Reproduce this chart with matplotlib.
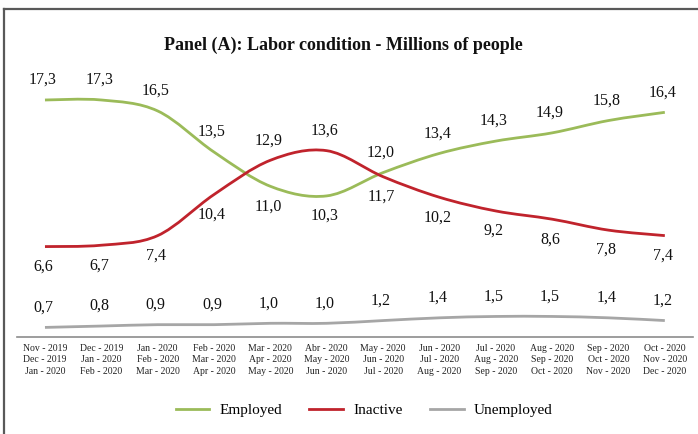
import matplotlib
matplotlib.use("Agg")
import matplotlib.pyplot as plt
from matplotlib.path import Path
from matplotlib.patches import PathPatch
from matplotlib.lines import Line2D
import numpy as np

plt.rcParams['font.family'] = ['Liberation Serif', 'DejaVu Serif']

tick_labels = [
    "Nov - 2019\nDec - 2019\nJan - 2020",
    "Dec - 2019\nJan - 2020\nFeb - 2020",
    "Jan - 2020\nFeb - 2020\nMar - 2020",
    "Feb - 2020\nMar - 2020\nApr - 2020",
    "Mar - 2020\nApr - 2020\nMay - 2020",
    "Abr - 2020\nMay - 2020\nJun - 2020",
    "May - 2020\nJun - 2020\nJul - 2020",
    "Jun - 2020\nJul - 2020\nAug - 2020",
    "Jul - 2020\nAug - 2020\nSep - 2020",
    "Aug - 2020\nSep - 2020\nOct - 2020",
    "Sep - 2020\nOct - 2020\nNov - 2020",
    "Oct - 2020\nNov - 2020\nDec - 2020",
]
employed = [17.3, 17.3, 16.5, 13.5, 11.0, 10.3, 12.0, 13.4, 14.3, 14.9, 15.8, 16.4]
inactive = [6.6, 6.7, 7.4, 10.4, 12.9, 13.6, 11.7, 10.2, 9.2, 8.6, 7.8, 7.4]
unemployed = [0.7, 0.8, 0.9, 0.9, 1.0, 1.0, 1.2, 1.4, 1.5, 1.5, 1.4, 1.2]

# label sides: above if the series is the higher of employed/inactive
emp_side = [1 if e >= i else -1 for e, i in zip(employed, inactive)]
ina_side = [1 if i > e else -1 for e, i in zip(employed, inactive)]
une_side = [1] * len(unemployed)

series = [
    ("Employed", employed, "#9BBB59", emp_side),
    ("Inactive", inactive, "#C0232C", ina_side),
    ("Unemployed", unemployed, "#A6A6A6", une_side),
]

fig = plt.figure(figsize=(6.98, 4.34), dpi=100)
ax = fig.add_axes([16.8 / 698, 97 / 434, 676.2 / 698, 274 / 434])
ax.set_xlim(-0.5, 11.5)
ax.set_ylim(0, 20)


def smooth_path(xs, ys):
    pts = np.column_stack([xs, ys]).astype(float)
    n = len(pts)
    verts = [pts[0]]
    codes = [Path.MOVETO]
    for i in range(n - 1):
        p0 = pts[i - 1] if i > 0 else pts[i]
        p1 = pts[i]
        p2 = pts[i + 1]
        p3 = pts[i + 2] if i + 2 < n else pts[i + 1]
        c1 = p1 + (p2 - p0) / 6.0
        c2 = p2 - (p3 - p1) / 6.0
        verts += [c1, c2, p2]
        codes += [Path.CURVE4] * 3
    return Path(verts, codes)


x = np.arange(len(tick_labels))
handles = []
for name, vals, color, sides in series:
    patch = PathPatch(smooth_path(x, vals), facecolor='none', edgecolor=color,
                      lw=2.0, capstyle='butt')
    ax.add_patch(patch)
    for xi, v, sd in zip(x, vals, sides):
        ax.annotate(f"{v:.1f}".replace('.', ','), (xi, v),
                    xytext=(-1.5, 14.4 * sd), textcoords='offset points',
                    ha='center', va='center', fontsize=11.5, color='#111111')
    handles.append(Line2D([], [], color=color, lw=2.0, label=name))

for s in ['top', 'right', 'left']:
    ax.spines[s].set_visible(False)
ax.spines['bottom'].set_color('#8C8C8C')
ax.spines['bottom'].set_linewidth(1.2)
ax.set_yticks([])
ax.set_xticks(x)
ax.set_xticklabels(tick_labels, fontsize=7, linespacing=1.35, color='#222222')
ax.tick_params(axis='x', length=0, pad=5)

fig.text(343 / 698, 1 - 45 / 434, "Panel (A): Labor condition - Millions of people",
         ha='center', va='center', fontsize=13, fontweight='bold', color='#111111')

fig.legend(handles=handles, loc='center', bbox_to_anchor=(364 / 698, 1 - 410 / 434),
           ncol=3, frameon=False, fontsize=11, handlelength=2.2,
           handletextpad=0.65, columnspacing=1.8)

# outer frame (left and top)
fig.add_artist(Line2D([3.5 / 698, 3.5 / 698], [0, 1 - 8.5 / 434],
                      transform=fig.transFigure, color='#595959', lw=1.6))
fig.add_artist(Line2D([3.5 / 698, 697 / 698], [1 - 8.5 / 434, 1 - 8.5 / 434],
                      transform=fig.transFigure, color='#595959', lw=1.6))

fig.savefig("out.png", dpi=100)
